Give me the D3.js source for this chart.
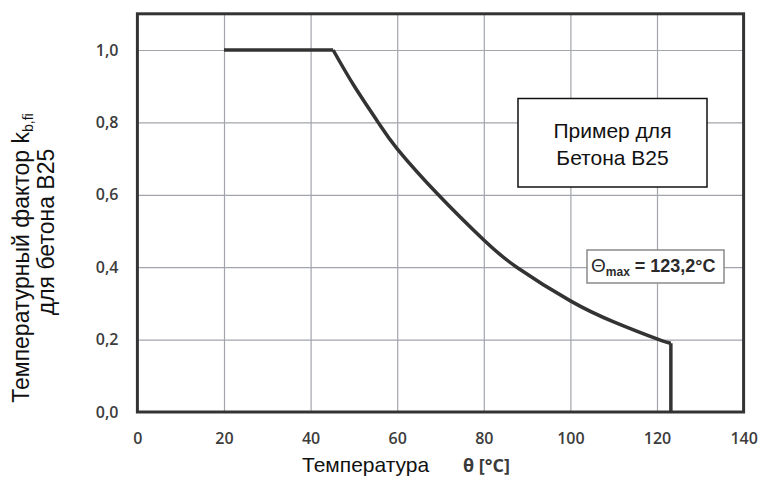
<!DOCTYPE html>
<html>
<head>
<meta charset="utf-8">
<script src="https://cdn.jsdelivr.net/npm/d3@7"></script>
<style>
  body { margin: 0; background: #fff; }
</style>
</head>
<body>
<div id="chart"></div>
<script>
// ------------------------- DATA ---------------------------

// temperature (°C) and temperature factor k_b,fi
const temps   = [20, 45.2, 50, 55.6, 60, 69.5, 80, 87.6, 100, 110, 120, 123.2, 123.2];
const kValues = [1.0, 1.0, 0.902, 0.80, 0.727, 0.60, 0.475, 0.40, 0.307, 0.249, 0.202, 0.19, 0.0];

const xTicks = [0, 20, 40, 60, 80, 100, 120, 140];
const yTicks = [0, 0.2, 0.4, 0.6, 0.8, 1.0];
const yTickLabels = ["0,0", "0,2", "0,4", "0,6", "0,8", "1,0"];

const thetaMax = "123,2°C";

// ------------------------- SETUP --------------------------

let width = 761, height = 479;
let plotLeft = 137.4, plotRight = 743.6, plotTop = 13.8, plotBottom = 412;

let svg = d3.select("#chart")
            .append("svg")
            .attr("width", width)
            .attr("height", height)

let x = d3.scaleLinear().domain([0, 140]).range([plotLeft, plotRight]);
let y = d3.scaleLinear().domain([0, 1.1]).range([plotBottom, plotTop]);

// ------------------------- GRID ---------------------------

svg.append("g")
   .attr("transform", "translate(0," + plotBottom + ")")
   .call(d3.axisBottom(x).tickValues(xTicks.slice(1, -1)).tickSize(-(plotBottom - plotTop)).tickFormat(""))
   .call(g => g.select(".domain").remove())
   .selectAll("line")
   .attr("stroke", "#a3a5ad")
   .attr("stroke-width", 1.2)

svg.append("g")
   .attr("transform", "translate(" + plotLeft + ",0)")
   .call(d3.axisLeft(y).tickValues(yTicks.slice(1)).tickSize(-(plotRight - plotLeft)).tickFormat(""))
   .call(g => g.select(".domain").remove())
   .selectAll("line")
   .attr("stroke", "#a3a5ad")
   .attr("stroke-width", 1.2)

// ------------------------ TICK LABELS ---------------------

let xAxis = svg.append("g")
   .attr("transform", "translate(0," + plotBottom + ")")
   .call(d3.axisBottom(x).tickValues(xTicks).tickSize(0).tickPadding(21).tickFormat(d => String(d)))
xAxis.select(".domain").remove()
xAxis.selectAll("text")
     .style("font-family", "'Open Sans', sans-serif")
     .style("font-size", "16px")
     .style("font-weight", 600)
     .attr("fill", "#3c3c3c")

let yAxis = svg.append("g")
   .attr("transform", "translate(" + plotLeft + ",0)")
   .call(d3.axisLeft(y).tickValues(yTicks).tickSize(0).tickPadding(19)
           .tickFormat((d, i) => yTickLabels[i]))
yAxis.select(".domain").remove()
yAxis.selectAll("text")
     .style("font-family", "'Open Sans', sans-serif")
     .style("font-size", "16px")
     .style("font-weight", 600)
     .attr("fill", "#3c3c3c")

// ------------------------- FRAME --------------------------

svg.append("rect")
   .attr("x", plotLeft)
   .attr("y", plotTop)
   .attr("width", plotRight - plotLeft)
   .attr("height", plotBottom - plotTop)
   .attr("fill", "none")
   .attr("stroke", "#333")
   .attr("stroke-width", 3)

// ------------------------- CURVE --------------------------

let pts = temps.map((t, i) => [t, kValues[i]]);
let lineFlat = d3.line().x(d => x(d[0])).y(d => y(d[1]));
let lineCurve = d3.line().x(d => x(d[0])).y(d => y(d[1])).curve(d3.curveNatural);

let curveStyle = p => p.attr("fill", "none")
                       .attr("stroke", "#333")
                       .attr("stroke-width", 3.5)
                       .attr("stroke-linejoin", "round")

svg.append("path").attr("d", lineFlat(pts.slice(0, 2))).call(curveStyle)
svg.append("path").attr("d", lineCurve(pts.slice(1, 12))).call(curveStyle)
svg.append("path").attr("d", lineFlat(pts.slice(11))).call(curveStyle)

// ------------------------ ANNOTATIONS ---------------------

// example box
svg.append("rect")
   .attr("x", 518).attr("y", 98.5)
   .attr("width", 189).attr("height", 88.5)
   .attr("fill", "#fff")
   .attr("stroke", "#111")
   .attr("stroke-width", 1.5)

let boxText = svg.append("text")
   .attr("text-anchor", "middle")
   .style("font-family", "'Liberation Sans', Arial, sans-serif")
   .style("font-size", "21px")
   .attr("fill", "#111")
boxText.append("tspan").attr("x", 612.5).attr("y", 138).text("Пример для")
boxText.append("tspan").attr("x", 612.5).attr("y", 165).text("Бетона В25")

// theta max box
svg.append("rect")
   .attr("x", 587).attr("y", 250)
   .attr("width", 137).attr("height", 33)
   .attr("fill", "#fff")
   .attr("stroke", "#8a8a8a")
   .attr("stroke-width", 1.5)

let thetaText = svg.append("text")
   .attr("x", 591).attr("y", 272)
   .style("font-family", "'Liberation Sans', Arial, sans-serif")
   .style("font-size", "18px")
   .style("font-weight", "bold")
   .attr("fill", "#2a2a2a")
thetaText.append("tspan").style("font-weight", "normal").style("font-size", "19px").text("Θ")
thetaText.append("tspan").attr("dy", 4).style("font-size", "12px").text("max")
thetaText.append("tspan").attr("dy", -4).text(" = " + thetaMax)

// ------------------------ AXIS TITLES ---------------------

svg.append("text")
   .attr("x", 302).attr("y", 472)
   .style("font-family", "'Liberation Sans', Arial, sans-serif")
   .style("font-size", "21px")
   .attr("fill", "#111")
   .text("Температура")

svg.append("text")
   .attr("x", 463).attr("y", 472)
   .style("font-family", "'Open Sans', sans-serif")
   .style("font-size", "18px")
   .style("font-weight", "bold")
   .attr("fill", "#3a3a3a")
   .text("θ [°C]")

let yTitle1 = svg.append("text")
   .attr("transform", "translate(29,258) rotate(-90)")
   .attr("text-anchor", "middle")
   .style("font-family", "'Liberation Sans', Arial, sans-serif")
   .style("font-size", "23px")
   .attr("fill", "#111")
yTitle1.append("tspan").text("Температурный фактор k")
yTitle1.append("tspan").attr("dy", 4).style("font-size", "14px").text("b,fi")

svg.append("text")
   .attr("transform", "translate(54,232) rotate(-90)")
   .attr("text-anchor", "middle")
   .style("font-family", "'Liberation Sans', Arial, sans-serif")
   .style("font-size", "23px")
   .attr("fill", "#111")
   .text("для бетона В25")
</script>
</body>
</html>
